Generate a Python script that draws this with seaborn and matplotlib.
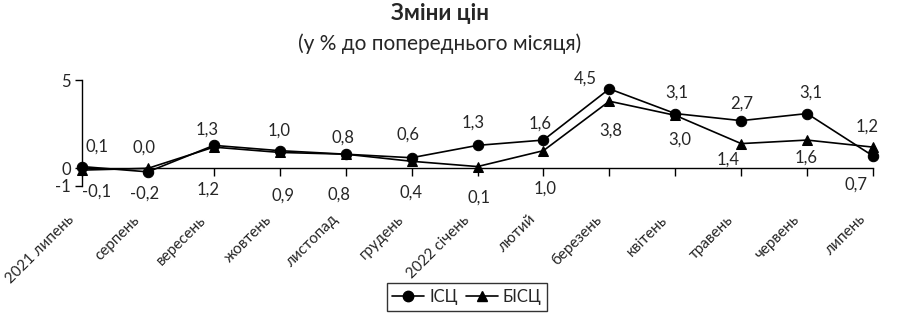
import matplotlib
matplotlib.use("Agg")
import matplotlib.pyplot as plt
from matplotlib.transforms import ScaledTranslation
from matplotlib.lines import Line2D
import seaborn as sns
import pandas as pd

months = ["2021 липень", "серпень", "вересень", "жовтень", "листопад", "грудень",
          "2022 січень", "лютий", "березень", "квітень", "травень", "червень", "липень"]
isc = [0.1, -0.2, 1.3, 1.0, 0.8, 0.6, 1.3, 1.6, 4.5, 3.1, 2.7, 3.1, 0.7]
bisc = [-0.1, 0.0, 1.2, 0.9, 0.8, 0.4, 0.1, 1.0, 3.8, 3.0, 1.4, 1.6, 1.2]
yticks = [-1, 0, 5]

# label offsets (pixels) relative to each point
isc_dx = [15, -3, -7, -1, -3, -4, -4, -3, -24, 2, 1, 4, -17]
isc_dy = [20, -22, 16, 20, 17, 23, 23, 16, 10, 21, 17, 21, -29]
bisc_dx = [15, -4, -6, 3, -7, -1, 1, 2, 1, 5, -13, -1, -6]
bisc_dy = [-22, 21, -42, -43, -40, -31, -31, -38, -29, -24, -16, -18, 21]

sns.set_theme(style="white")
plt.rcParams['font.family'] = ['Lato', 'DejaVu Sans']

FS = 12
fig = plt.figure(figsize=(9, 3.23), dpi=100)
ax = fig.add_axes([82/900, 1-186/323, (873-82)/900, (186-80)/323])

idx = list(range(len(months)))
df = pd.DataFrame({"x": idx, "ІСЦ": isc, "БІСЦ": bisc})

sns.lineplot(data=df, x="x", y="ІСЦ", ax=ax, color="black", linewidth=1.2,
             marker="o", markersize=7.5, markeredgecolor="black", clip_on=False, zorder=3)
sns.lineplot(data=df, x="x", y="БІСЦ", ax=ax, color="black", linewidth=1.2,
             marker="^", markersize=7.5, markeredgecolor="black", clip_on=False, zorder=3)

ax.set_xlim(0, len(months) - 1)
ax.set_ylim(-1, 5)
ax.set_xlabel("")
ax.set_ylabel("")

for s in ["top", "right"]:
    ax.spines[s].set_visible(False)
ax.spines["bottom"].set_position(("data", 0))
for s in ["left", "bottom"]:
    ax.spines[s].set_color("black")
    ax.spines[s].set_linewidth(1.0)

ax.set_yticks(yticks)
ax.set_yticklabels([str(v) for v in yticks], fontsize=FS)
ax.tick_params(axis="y", direction="out", length=5, width=1, color="black", pad=3, left=True)
ax.set_xticks(idx)
ax.set_xticklabels(months, rotation=45, ha="right", rotation_mode="anchor", fontsize=11)
ax.tick_params(axis="x", direction="out", length=6, width=1, color="black", pad=26, bottom=True)
for lbl in ax.get_xticklabels():
    lbl.set_transform(lbl.get_transform() + ScaledTranslation(-15/100, 0, fig.dpi_scale_trans))

fmt = lambda v: f"{v:.1f}".replace(".", ",")
for i in idx:
    ax.annotate(fmt(isc[i]), (i, isc[i]), xytext=(isc_dx[i], isc_dy[i]),
                textcoords="offset pixels", ha="center", va="center", fontsize=FS)
    ax.annotate(fmt(bisc[i]), (i, bisc[i]), xytext=(bisc_dx[i], bisc_dy[i]),
                textcoords="offset pixels", ha="center", va="center", fontsize=FS)

fig.text(440/900, 1-14/323, "Зміни цін", ha="center", va="center", fontsize=16, fontweight="bold")
fig.text(440/900, 1-44/323, "(у % до попереднього місяця)", ha="center", va="center", fontsize=15)

handles = [Line2D([], [], color="black", marker="o", markersize=7.5, linewidth=1.2),
           Line2D([], [], color="black", marker="^", markersize=7.5, linewidth=1.2)]
leg = fig.legend(handles, ["ІСЦ", "БІСЦ"], loc="center", bbox_to_anchor=(467/900, 1-297/323),
                 ncol=2, frameon=True, fancybox=False, fontsize=FS, handlelength=1.9,
                 columnspacing=0.5, handletextpad=0.3, borderpad=0.35)
leg.get_frame().set_edgecolor("black")
leg.get_frame().set_linewidth(1.0)

fig.savefig("out.png", dpi=100)
